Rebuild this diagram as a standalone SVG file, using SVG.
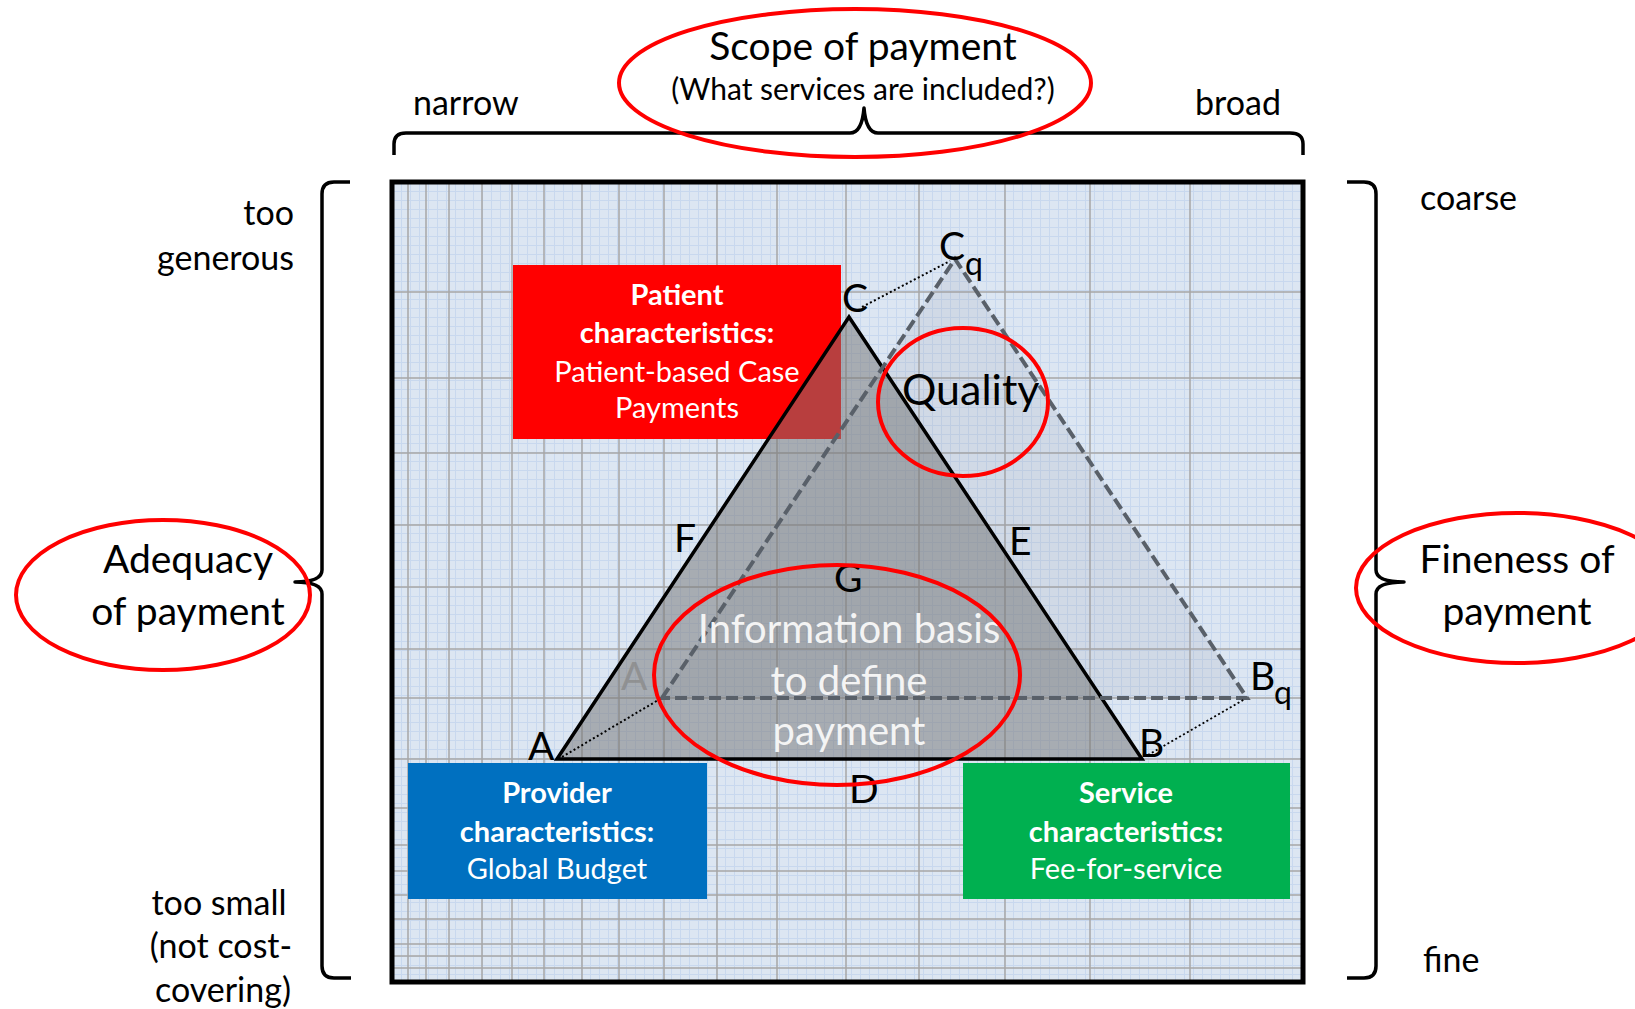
<svg xmlns="http://www.w3.org/2000/svg" width="1635" height="1009" viewBox="0 0 1635 1009">
  <style>
    text { font-family: Lato, "Open Sans", "Liberation Sans", sans-serif; }
    .lbl { fill: #000; font-size: 34px; }
    .big { fill: #000; font-size: 38px; }
    .vtx { fill: #000; font-size: 39px; }
    .sub { fill: #000; font-size: 32px; }
    .box { font-size: 29px; fill: #fff; text-anchor: middle; }
    .b { font-weight: bold; }
    .major { stroke: #a6a6a6; stroke-width: 1.5; fill: none; }
    .brace { stroke: #000; stroke-width: 3.5; fill: none; stroke-linejoin: round; }
    .ring { stroke: #ff0000; stroke-width: 4; fill: none; }
    .dot { stroke: #000; stroke-width: 2; stroke-dasharray: 2 2.5; fill: none; }
    .dash { stroke: #596069; stroke-width: 4; stroke-dasharray: 12 5; fill: none; }
  </style>
  <defs>
    <pattern id="fine" x="392" y="182" width="9" height="9" patternUnits="userSpaceOnUse">
      <rect width="9" height="9" fill="#dce6f2"/>
      <path d="M0 0.5H9M0.5 0V9" stroke="#c8d8ee" stroke-width="1"/>
    </pattern>
  </defs>

  <rect width="1635" height="1009" fill="#fff"/>

  <!-- plotting area with fine and major grid -->
  <g id="grid">
    <rect x="392" y="182" width="911" height="800" fill="url(#fine)"/>
    <path class="major" d="M408 182V982M426 182V982M449 182V982M482 182V982M512 182V982M544 182V982M582 182V982M619 182V982M664 182V982M717 182V982M777 182V982M846 182V982M919 182V982M1005 182V982M1090 182V982M1190 182V982"/>
    <path class="major" d="M392 292H1303M392 378H1303M392 453H1303M392 525H1303M392 587H1303M392 649H1303M392 698H1303M392 759H1303M392 808H1303M392 845H1303M392 871H1303M392 895H1303M392 919H1303M392 944H1303M392 956H1303M392 968H1303"/>
  </g>

  <!-- patient characteristics box -->
  <g id="patient">
    <rect x="513" y="265" width="328" height="174" fill="#ff0000"/>
    <text class="box b" x="677" y="305">Patient</text>
    <text class="box b" x="677" y="343">characteristics:</text>
    <text class="box" x="677" y="382">Patient-based Case</text>
    <text class="box" x="677" y="418">Payments</text>
  </g>

  <!-- quality-shifted triangle -->
  <g id="quality-triangle">
    <polygon points="662,698 955,259 1247,698" fill="#8c96a0" fill-opacity="0.15"/>
  </g>

  <!-- base triangle ABC -->
  <g id="triangle">
    <polygon points="557,759 849,317 1142,759" fill="#777777" fill-opacity="0.52" stroke="#000" stroke-width="3.5" stroke-linejoin="miter"/>
  </g>

  <g id="connectors">
    <polygon class="dash" points="662,698 955,259 1247,698"/>
    <path class="dot" d="M862 307L950 261"/>
    <path class="dot" d="M562 757L660 699"/>
    <path class="dot" d="M1148 755L1245 699"/>
  </g>

  <!-- provider characteristics box -->
  <g id="provider">
    <rect x="408" y="763" width="299" height="136" fill="#0070c0"/>
    <text class="box b" x="557" y="803">Provider</text>
    <text class="box b" x="557" y="842">characteristics:</text>
    <text class="box" x="557" y="879">Global Budget</text>
  </g>

  <!-- service characteristics box -->
  <g id="service">
    <rect x="963" y="763" width="327" height="136" fill="#00b050"/>
    <text class="box b" x="1126" y="803">Service</text>
    <text class="box b" x="1126" y="842">characteristics:</text>
    <text class="box" x="1126" y="879">Fee-for-service</text>
  </g>

  <!-- outer frame -->
  <rect x="392" y="182" width="911" height="800" fill="none" stroke="#000" stroke-width="5"/>

  <!-- braces -->
  <g id="braces">
    <path class="brace" d="M394 155V144Q394 133 406 133H850Q862 133 864 108Q866 133 878 133H1290Q1303 133 1303 144V155"/>
    <path class="brace" d="M350 182H334Q322 182 322 194V570Q322 582 295 582Q322 582 322 594V966Q322 978 334 978H351"/>
    <path class="brace" d="M1347 182H1364Q1376 182 1376 194V570Q1376 582 1404 582Q1376 582 1376 594V966Q1376 978 1364 978H1347"/>
  </g>

  <!-- vertex labels -->
  <g id="vertices">
    <text class="vtx" x="842" y="312">C</text>
    <text class="vtx" x="939" y="260">C</text><text class="sub" x="965" y="275">q</text>
    <text class="vtx" x="528" y="760">A</text>
    <text class="vtx" x="621" y="690" style="fill:#8a8a8a;fill-opacity:0.8">A</text>
    <text class="vtx" x="1139" y="757">B</text>
    <text class="vtx" x="1250" y="690">B</text><text class="sub" x="1274" y="704">q</text>
    <text class="vtx" x="849" y="803">D</text>
    <text class="vtx" x="1009" y="555">E</text>
    <text class="vtx" x="674" y="552">F</text>
    <text class="vtx" x="834" y="592">G</text>
  </g>

  <!-- axis labels -->
  <g id="axes">
    <text class="big" x="863" y="60" text-anchor="middle" style="font-size:39px">Scope of payment</text>
    <text class="lbl" x="863" y="100" text-anchor="middle" style="font-size:30px">(What services are included?)</text>
    <text class="lbl" x="413" y="115">narrow</text>
    <text class="lbl" x="1195" y="115">broad</text>

    <text class="lbl" x="294" y="225" text-anchor="end">too</text>
    <text class="lbl" x="294" y="270" text-anchor="end">generous</text>
    <text class="big" x="188" y="573" text-anchor="middle" style="font-size:39px">Adequacy</text>
    <text class="big" x="188" y="625" text-anchor="middle" style="font-size:39px">of payment</text>
    <text class="lbl" x="219" y="915" text-anchor="middle">too small</text>
    <text class="lbl" x="221" y="958" text-anchor="middle">(not cost-</text>
    <text class="lbl" x="223" y="1002" text-anchor="middle">covering)</text>

    <text class="lbl" x="1420" y="210">coarse</text>
    <text class="big" x="1517" y="573" text-anchor="middle" style="font-size:39px">Fineness of</text>
    <text class="big" x="1517" y="625" text-anchor="middle" style="font-size:39px">payment</text>
    <text class="lbl" x="1423" y="972">fine</text>
  </g>

  <!-- inner labels -->
  <g id="quality">
    <text class="big" x="902" y="405" style="font-size:43px">Quality</text>
  </g>
  <g id="information">
    <text class="big" x="849" y="643" text-anchor="middle" style="fill:#f4f4f4;font-size:40px">Information basis</text>
    <text class="big" x="849" y="695" text-anchor="middle" style="fill:#f4f4f4;font-size:40px">to define</text>
    <text class="big" x="849" y="745" text-anchor="middle" style="fill:#f4f4f4;font-size:40px">payment</text>
  </g>

  <!-- highlight rings -->
  <g id="rings">
    <ellipse class="ring" cx="855" cy="83" rx="236" ry="74"/>
    <ellipse class="ring" cx="163" cy="595" rx="147" ry="75"/>
    <ellipse class="ring" cx="1517" cy="588" rx="161" ry="75"/>
    <ellipse class="ring" cx="963" cy="402" rx="85" ry="74"/>
    <ellipse class="ring" cx="837" cy="675" rx="183" ry="110"/>
  </g>
</svg>
